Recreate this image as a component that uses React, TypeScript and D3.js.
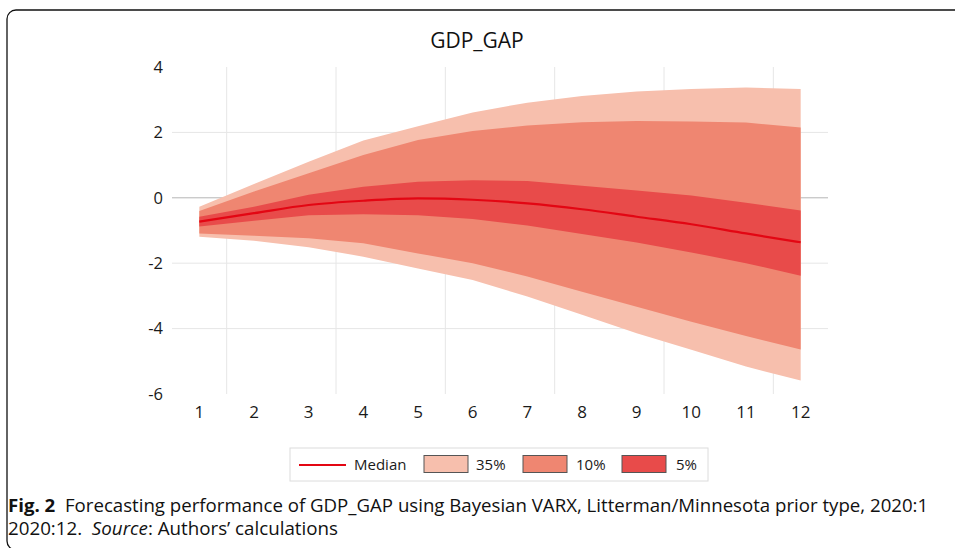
import React, { useLayoutEffect, useRef, useState } from "react";
import * as d3 from "d3";

const categories = ["1", "2", "3", "4", "5", "6", "7", "8", "9", "10", "11", "12"];
const median = [-0.73, -0.47, -0.22, -0.09, -0.02, -0.06, -0.17, -0.35, -0.58, -0.81, -1.09, -1.36];
const upper35 = [-0.27, 0.42, 1.1, 1.75, 2.19, 2.61, 2.91, 3.11, 3.25, 3.33, 3.37, 3.33];
const lower35 = [-1.19, -1.31, -1.51, -1.8, -2.16, -2.51, -3.02, -3.58, -4.14, -4.65, -5.16, -5.59];
const upper10 = [-0.4, 0.19, 0.75, 1.31, 1.77, 2.04, 2.21, 2.31, 2.35, 2.33, 2.3, 2.15];
const lower10 = [-1.09, -1.16, -1.24, -1.39, -1.7, -2.0, -2.41, -2.87, -3.33, -3.79, -4.23, -4.64];
const upper5 = [-0.58, -0.27, 0.09, 0.34, 0.49, 0.54, 0.51, 0.37, 0.22, 0.07, -0.15, -0.39];
const lower5 = [-0.88, -0.7, -0.53, -0.5, -0.53, -0.65, -0.85, -1.11, -1.37, -1.67, -2.0, -2.38];
const yTicks = [4, 2, 0, -2, -4, -6];

const C35 = "#f7bfad";
const C10 = "#ef8671";
const C5 = "#e84b4a";
const CMED = "#e30613";
const FONT = "'Open Sans', 'Noto Sans', sans-serif";

export default function App() {
  const line1Ref = useRef<SVGTextElement>(null);
  const line2Ref = useRef<SVGTextElement>(null);
  const [s1, setS1] = useState(1);
  const [s2, setS2] = useState(1);

  useLayoutEffect(() => {
    if (line1Ref.current) {
      const w = line1Ref.current.getComputedTextLength();
      if (w > 0) setS1((928 - 8) / w);
    }
    if (line2Ref.current) {
      const w = line2Ref.current.getComputedTextLength();
      if (w > 0) setS2((338 - 8) / w);
    }
  }, []);

  const x = d3.scaleBand<string>().domain(categories).range([172, 828]).padding(0);
  const y = d3.scaleLinear().domain([-6, 4]).range([394, 67]);
  const cx = (i: number) => (x(categories[i]) as number) + x.bandwidth() / 2;

  const band = (up: number[], lo: number[]) =>
    d3
      .area<number>()
      .x((_, i) => cx(i))
      .y0((_, i) => y(lo[i]))
      .y1((_, i) => y(up[i]))(up.map((_, i) => i)) as string;

  const medLine = d3
    .line<number>()
    .x((_, i) => cx(i))
    .y((d) => y(d))
    .curve(d3.curveMonotoneX)(median) as string;

  const gridX = categories.map((c, i) => ({ c, i })).filter((d) => d.i % 2 === 1);

  const legendItems = [
    { label: "35%", color: C35, sx: 424, tx: 476 },
    { label: "10%", color: C10, sx: 523, tx: 576 },
    { label: "5%", color: C5, sx: 622, tx: 676 },
  ];

  return (
    <svg
      width={955}
      height={548}
      style={{ position: "absolute", left: 0, top: 0, display: "block", background: "#fff" }}
      fontFamily={FONT}
    >
      <rect x={7} y={10} width={970} height={540} rx={9} ry={9} fill="none" stroke="#111" strokeWidth={1.3} />

      <text x={477} y={48} textAnchor="middle" fontSize={21} fill="#111">
        GDP_GAP
      </text>

      {/* horizontal gridlines */}
      {yTicks
        .filter((t) => t !== 4 && t !== -6 && t !== 0)
        .map((t) => (
          <line key={"h" + t} x1={172} x2={828} y1={y(t)} y2={y(t)} stroke="#e6e6e6" strokeWidth={1} />
        ))}
      {/* vertical gridlines */}
      {gridX.map((d) => (
        <line
          key={"v" + d.c}
          x1={x(d.c) as number}
          x2={x(d.c) as number}
          y1={y(4)}
          y2={y(-6)}
          stroke="#e6e6e6"
          strokeWidth={1}
        />
      ))}
      <line x1={172} x2={828} y1={y(0)} y2={y(0)} stroke="#b5b5b5" strokeWidth={1} />

      <path d={band(upper35, lower35)} fill={C35} />
      <path d={band(upper10, lower10)} fill={C10} />
      <path d={band(upper5, lower5)} fill={C5} />
      <path d={medLine} fill="none" stroke={CMED} strokeWidth={2.2} />

      {/* y tick labels */}
      {yTicks.map((t) => (
        <text key={"yt" + t} x={163} y={y(t)} dy="0.35em" textAnchor="end" fontSize={16.5} fill="#1a1a1a">
          {t}
        </text>
      ))}
      {/* x tick labels */}
      {categories.map((c, i) => (
        <text key={"xt" + c} x={cx(i)} y={418} textAnchor="middle" fontSize={17} fill="#1a1a1a">
          {c}
        </text>
      ))}

      {/* legend */}
      <rect x={290} y={448} width={418} height={33} fill="#fff" stroke="#dcdcdc" strokeWidth={1} />
      <line x1={299} x2={346} y1={465} y2={465} stroke={CMED} strokeWidth={2} />
      <text x={354} y={470} fontSize={15} fill="#1a1a1a">
        Median
      </text>
      {legendItems.map((d) => (
        <g key={d.label}>
          <rect x={d.sx} y={455.5} width={44} height={17} fill={d.color} stroke="#555" strokeWidth={1} />
          <text x={d.tx} y={470} fontSize={15} fill="#1a1a1a">
            {d.label}
          </text>
        </g>
      ))}

      {/* caption */}
      <g transform={`translate(8,511.5) scale(${s1},1)`}>
        <text ref={line1Ref} x={0} y={0} fontSize={17.8} fill="#111">
          <tspan fontWeight="bold">Fig. 2</tspan>
          <tspan>{"\u00a0\u00a0Forecasting performance of GDP_GAP using Bayesian VARX, Litterman/Minnesota prior type, 2020:1"}</tspan>
        </text>
      </g>
      <g transform={`translate(8,535) scale(${s2},1)`}>
        <text ref={line2Ref} x={0} y={0} fontSize={17.8} fill="#111">
          <tspan>{"2020:12.\u00a0\u00a0"}</tspan>
          <tspan fontStyle="italic">Source</tspan>
          <tspan>: Authors’ calculations</tspan>
        </text>
      </g>
    </svg>
  );
}
